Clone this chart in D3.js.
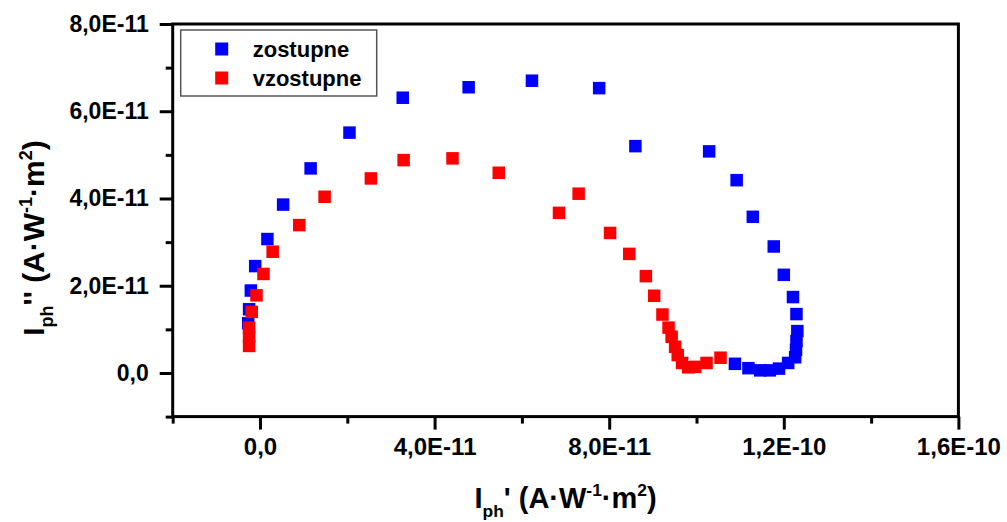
<!DOCTYPE html>
<html>
<head>
<meta charset="utf-8">
<script src="https://cdn.jsdelivr.net/npm/d3@7"></script>
<style>
  html, body { margin: 0; padding: 0; background: #fff; }
  svg { display: block; font-family: "Liberation Sans", Arial, sans-serif; font-weight: bold; }
</style>
</head>
<body>
<svg id="chart" width="1007" height="522"></svg>
<script>
// Photocurrent Nyquist plot: Iph'' versus Iph'
const seriesNames = ["zostupne", "vzostupne"];
const seriesColors = ["#0000ff", "#ff0000"];

// zostupne (blue)
const zostupneX = [-0.27e-11, -0.25e-11, -0.21e-11, -0.11e-11, 0.17e-11, 0.53e-11, 1.16e-11, 2.05e-11,
  3.27e-11, 4.78e-11, 6.23e-11, 7.77e-11, 8.60e-11, 10.29e-11, 10.92e-11, 11.29e-11, 11.77e-11,
  12.00e-11, 12.21e-11, 12.29e-11, 12.31e-11, 12.29e-11, 12.28e-11, 12.26e-11, 12.10e-11,
  11.89e-11, 11.68e-11, 11.46e-11, 11.19e-11, 10.88e-11];
const zostupneY = [1.14e-11, 1.46e-11, 1.89e-11, 2.45e-11, 3.07e-11, 3.86e-11, 4.69e-11, 5.51e-11,
  6.31e-11, 6.55e-11, 6.70e-11, 6.53e-11, 5.20e-11, 5.08e-11, 4.42e-11, 3.58e-11, 2.90e-11,
  2.25e-11, 1.74e-11, 1.35e-11, 0.96e-11, 0.73e-11, 0.53e-11, 0.36e-11, 0.23e-11,
  0.10e-11, 0.06e-11, 0.06e-11, 0.11e-11, 0.21e-11];

// vzostupne (red)
const vzostupneX = [-0.25e-11, -0.25e-11, -0.25e-11, -0.19e-11, -0.08e-11, 0.08e-11, 0.29e-11, 0.90e-11,
  1.48e-11, 2.54e-11, 3.29e-11, 4.41e-11, 5.47e-11, 6.85e-11, 7.30e-11, 8.02e-11, 8.46e-11,
  8.84e-11, 9.03e-11, 9.22e-11, 9.36e-11, 9.43e-11, 9.51e-11, 9.57e-11, 9.67e-11, 9.81e-11,
  9.97e-11, 10.23e-11, 10.55e-11];
const vzostupneY = [0.62e-11, 0.83e-11, 1.04e-11, 1.40e-11, 1.78e-11, 2.27e-11, 2.78e-11, 3.39e-11,
  4.04e-11, 4.46e-11, 4.88e-11, 4.92e-11, 4.59e-11, 3.67e-11, 4.11e-11, 3.21e-11, 2.73e-11,
  2.22e-11, 1.77e-11, 1.34e-11, 1.04e-11, 0.83e-11, 0.60e-11, 0.41e-11, 0.23e-11, 0.13e-11,
  0.14e-11, 0.23e-11, 0.35e-11];

// axis ticks
const xMajorTicks = [0, 4e-11, 8e-11, 1.2e-10, 1.6e-10];
const xTickLabels = ["0,0", "4,0E-11", "8,0E-11", "1,2E-10", "1,6E-10"];
const xMinorTicks = [-2e-11, 2e-11, 6e-11, 1e-10, 1.4e-10];
const yMajorTicks = [0, 2e-11, 4e-11, 6e-11, 8e-11];
const yTickLabels = ["0,0", "2,0E-11", "4,0E-11", "6,0E-11", "8,0E-11"];
const yMinorTicks = [-1e-11, 1e-11, 3e-11, 5e-11, 7e-11];

const series = [
  { name: seriesNames[0], color: seriesColors[0], xs: zostupneX, ys: zostupneY },
  { name: seriesNames[1], color: seriesColors[1], xs: vzostupneX, ys: vzostupneY }
];

const svg = d3.select("#chart");
const plot = { left: 172.7, right: 958.4, top: 24, bottom: 416.6 };

const x = d3.scaleLinear().domain([-2e-11, 1.6e-10]).range([plot.left, plot.right]);
const y = d3.scaleLinear().domain([-1e-11, 8e-11]).range([plot.bottom, plot.top]);

const axisColor = "#000";
const frameWidth = 3;
const fontFamily = "Liberation Sans, Arial, sans-serif";

// markers
const markSize = 12.5;
series.forEach(s => {
  svg.append("g")
    .selectAll("rect")
    .data(s.xs.map((v, i) => [v, s.ys[i]]))
    .join("rect")
    .attr("x", d => x(d[0]) - markSize / 2)
    .attr("y", d => y(d[1]) - markSize / 2)
    .attr("width", markSize)
    .attr("height", markSize)
    .attr("fill", s.color);
});

// frame
svg.append("rect")
  .attr("x", plot.left).attr("y", plot.top)
  .attr("width", plot.right - plot.left).attr("height", plot.bottom - plot.top)
  .attr("fill", "none").attr("stroke", axisColor).attr("stroke-width", frameWidth);

function styleAxis(g) {
  g.select(".domain").remove();
  g.selectAll(".tick line").attr("stroke", axisColor).attr("stroke-width", frameWidth);
}

// x axis: major ticks with labels, minor ticks without
const xAxisMajor = svg.append("g")
  .attr("transform", `translate(0,${plot.bottom})`)
  .call(d3.axisBottom(x).tickValues(xMajorTicks).tickSize(13)
    .tickFormat((d, i) => xTickLabels[i]).tickPadding(8));
styleAxis(xAxisMajor);
xAxisMajor.selectAll(".tick text")
  .attr("fill", "#000").attr("font-size", 24).attr("font-family", fontFamily)
  .attr("font-weight", "bold");

const xAxisMinor = svg.append("g")
  .attr("transform", `translate(0,${plot.bottom})`)
  .call(d3.axisBottom(x).tickValues(xMinorTicks).tickSize(7).tickFormat(""));
styleAxis(xAxisMinor);

// y axis
const yAxisMajor = svg.append("g")
  .attr("transform", `translate(${plot.left},0)`)
  .call(d3.axisLeft(y).tickValues(yMajorTicks).tickSize(13)
    .tickFormat((d, i) => yTickLabels[i]).tickPadding(11));
styleAxis(yAxisMajor);
yAxisMajor.selectAll(".tick text")
  .attr("fill", "#000").attr("font-size", 23).attr("font-family", fontFamily)
  .attr("font-weight", "bold");

const yAxisMinor = svg.append("g")
  .attr("transform", `translate(${plot.left},0)`)
  .call(d3.axisLeft(y).tickValues(yMinorTicks).tickSize(7).tickFormat(""));
styleAxis(yAxisMinor);

// axis titles with subscript "ph" and superscript exponents (pixel offsets)
function axisTitle(sel, primes, fs) {
  const sub = 0.3 * fs, sup = 0.4 * fs, small = 0.6 * fs;
  sel.append("tspan").text("I");
  sel.append("tspan").text("ph").attr("font-size", small).attr("dy", sub);
  sel.append("tspan").text(primes + " (A\u00b7W").attr("dy", -sub);
  sel.append("tspan").text("-1").attr("font-size", small).attr("dy", -sup);
  sel.append("tspan").text("\u00b7m").attr("dy", sup);
  sel.append("tspan").text("2").attr("font-size", small).attr("dy", -sup);
  sel.append("tspan").text(")").attr("dy", sup);
}

const xTitleSize = 29;
const xTitle = svg.append("text")
  .attr("x", (plot.left + plot.right) / 2).attr("y", 508)
  .attr("text-anchor", "middle").attr("font-size", xTitleSize).attr("fill", "#000");
axisTitle(xTitle, "'", xTitleSize);

const yTitleSize = 30;
const yTitle = svg.append("text")
  .attr("transform", "translate(44,238) rotate(-90)")
  .attr("text-anchor", "middle").attr("font-size", yTitleSize).attr("fill", "#000");
axisTitle(yTitle, "''", yTitleSize);

// legend
const legend = svg.append("g");
legend.append("rect")
  .attr("x", 180.7).attr("y", 30).attr("width", 196).attr("height", 66)
  .attr("fill", "#fff").attr("stroke", "#555").attr("stroke-width", 1.5);
series.forEach((s, i) => {
  const cy = 49 + i * 29;
  legend.append("rect")
    .attr("x", 221.7 - 6.5).attr("y", cy - 6.5).attr("width", 13).attr("height", 13)
    .attr("fill", s.color);
  legend.append("text")
    .attr("x", 252.7).attr("y", cy + 8)
    .attr("font-size", 22).attr("fill", "#000")
    .text(s.name);
});
</script>
</body>
</html>
